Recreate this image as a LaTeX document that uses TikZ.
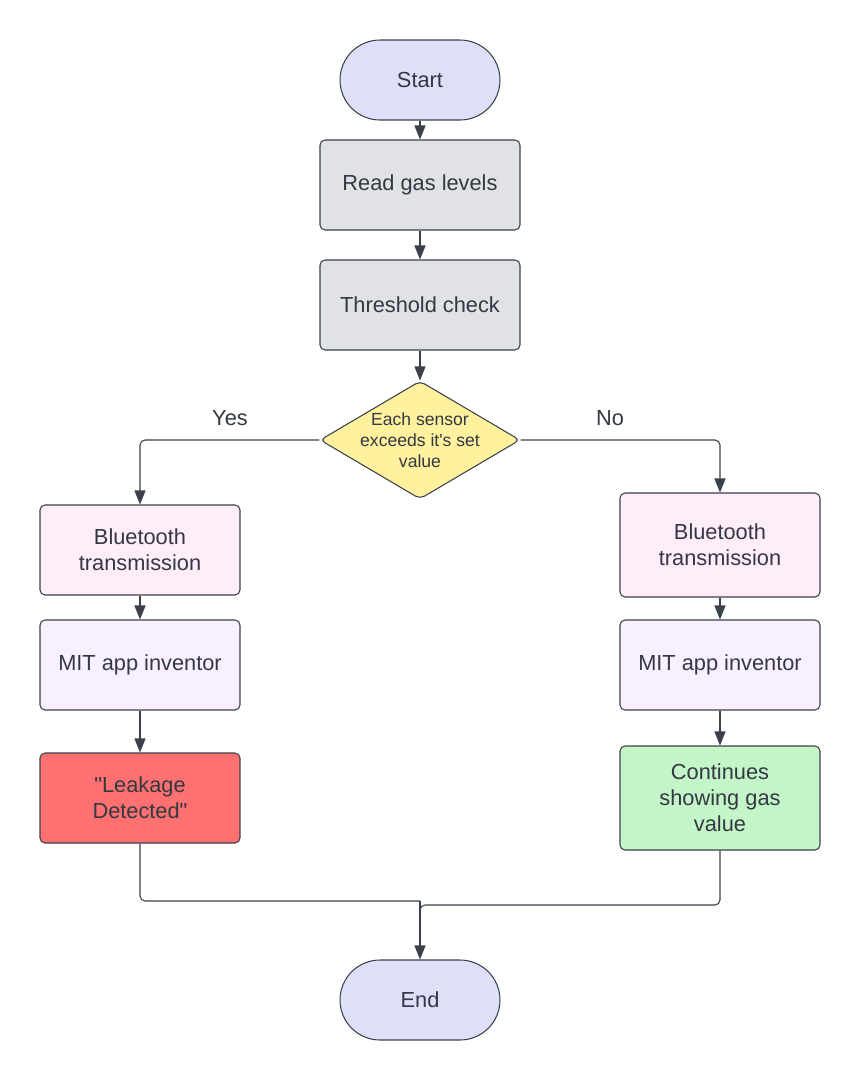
\documentclass[tikz,border=0pt]{standalone}
\usepackage{fontspec}
\setmainfont{Liberation Sans}
\usepackage{tikz}
\usetikzlibrary{arrows.meta}
\usetikzlibrary{shapes.geometric}
\definecolor{edgegrey}{RGB}{58,65,74}
\definecolor{txtgrey}{RGB}{51,56,66}
\definecolor{termblue}{RGB}{222,224,250}
\definecolor{stepgrey}{RGB}{224,226,230}
\definecolor{chkyellow}{RGB}{255,241,158}
\definecolor{btpink}{RGB}{255,237,250}
\definecolor{applilac}{RGB}{249,240,255}
\definecolor{alarmred}{RGB}{255,112,112}
\definecolor{okgreen}{RGB}{195,245,200}

\begin{document}
\begin{tikzpicture}[x=0.02cm, y=-0.02cm,
    every node/.style={text=txtgrey, font=\fontsize{12.4}{14.8}\selectfont, align=center},
    box/.style={draw=edgegrey, line width=0.6pt, rounded corners=0.1cm, minimum width=4cm, minimum height=1.8cm},
    terminal/.style={draw=edgegrey, line width=0.6pt, fill=termblue, rounded corners=0.8cm, minimum width=3.2cm, minimum height=1.6cm},
    arr/.style={draw=edgegrey, line width=0.6pt, -{Triangle[length=0.28cm, width=0.22cm]}},
    link/.style={draw=edgegrey, line width=0.6pt, rounded corners=0.1cm}]
      \useasboundingbox (0,0) rectangle (860,1080);
      % main column
      \node[terminal] (start) at (420,80) {Start};
      \node[box, fill=stepgrey] (read) at (420,185) {Read gas levels};
      \node[box, fill=stepgrey] (thr) at (420,305) {Threshold check};
      \node[draw=edgegrey, line width=0.6pt, fill=chkyellow, diamond, rounded corners=0.1cm, minimum width=4cm, minimum height=2.36cm, inner sep=0pt] (chk) at (420,440) {};
      \node[font=\fontsize{10}{12}\selectfont] (chktxt) at (chk) {Each sensor\\exceeds it\textquotesingle s set\\value};
      \node (yes) at (230,418) {Yes};
      \node (no) at (610,418) {No};
      % yes branch
      \node[box, fill=btpink] (lbt) at (140,550) {Bluetooth\\transmission};
      \node[box, fill=applilac] (lapp) at (140,665) {MIT app inventor};
      \node[box, fill=alarmred] (leak) at (140,798) {\textquotedbl Leakage\\Detected\textquotedbl};
      % no branch
      \node[box, fill=btpink, minimum height=2.08cm] (rbt) at (720,545) {Bluetooth\\transmission};
      \node[box, fill=applilac] (rapp) at (720,665) {MIT app inventor};
      \node[box, fill=okgreen, minimum height=2.08cm] (cont) at (720,798) {Continues\\showing gas\\value};
      \node[terminal] (end) at (420,1000) {End};
      \coordinate (jl) at (420,901);
      \coordinate (jr) at (420,905);
      % connectors
      \path[arr] (start) -- (read);
      \path[arr] (read) -- (thr);
      \path[arr] (thr) -- (chk);
      \path[arr, rounded corners=0.1cm] (chk.west) -| (lbt.north);
      \path[arr, rounded corners=0.1cm] (chk.east) -| (rbt.north);
      \path[arr] (lbt) -- (lapp);
      \path[arr] (lapp) -- (leak);
      \path[arr] (rbt) -- (rapp);
      \path[arr] (rapp) -- (cont);
      \path[link] (leak.south) |- (jl);
      \path[link] (cont.south) |- (jr) -- ++(0,10);
      \path[arr] (jl) -- (end);
    \end{tikzpicture}
\end{document}
